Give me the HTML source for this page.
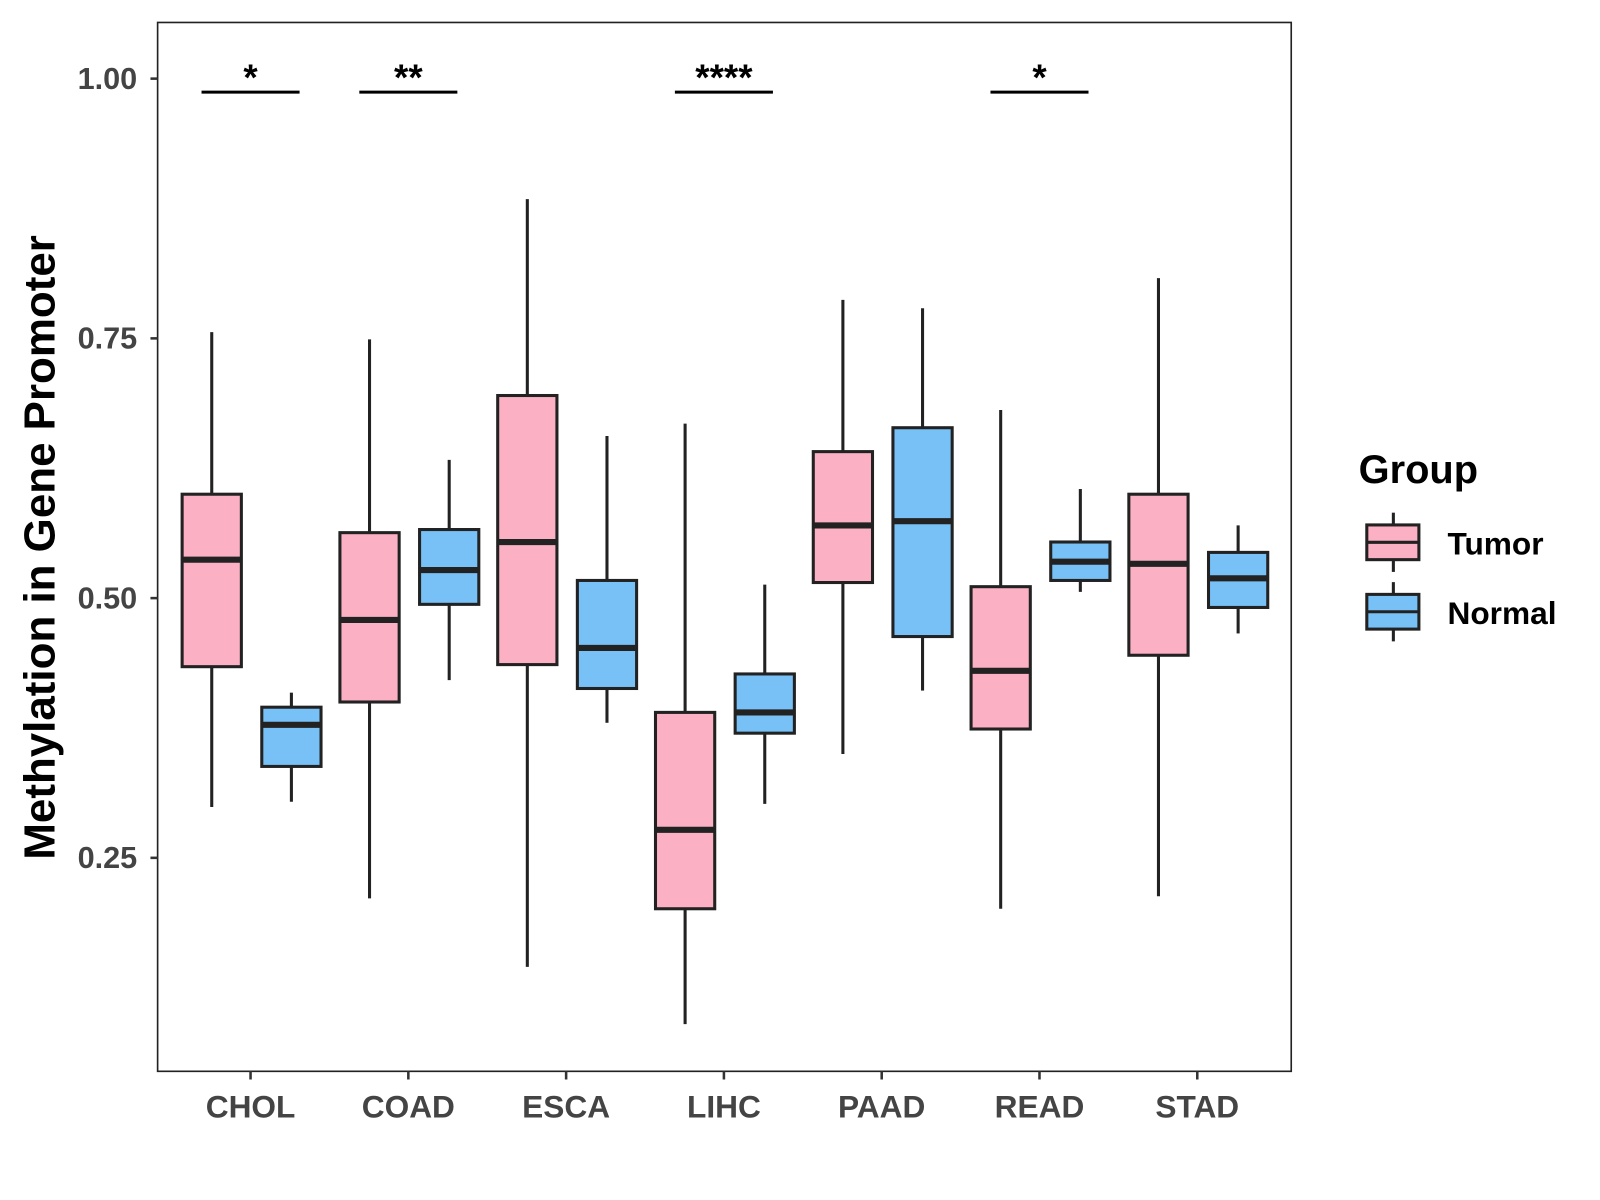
<!DOCTYPE html>
<html><head><meta charset="utf-8"><style>
html,body{margin:0;padding:0;background:#fff}
svg{display:block;font-family:"Liberation Sans",Arial,sans-serif;font-weight:bold}
</style></head><body>
<svg id="chart" width="1600" height="1200" viewBox="0 0 1566 1175" xmlns="http://www.w3.org/2000/svg">
<rect x="0" y="0" width="1566" height="1175" fill="#fff"/>
<rect x="154" y="22" width="1110" height="1027" fill="none" stroke="#222" stroke-width="1.6"/>
<g id="marks"></g>
<text transform="translate(53,536) rotate(-90)" text-anchor="middle" font-size="43" fill="#000">Methylation in Gene Promoter</text>
<g>
<text x="1330" y="473" font-size="39" fill="#000">Group</text>
<g>
<line x1="1364" y1="502" x2="1364" y2="560" stroke="#222" stroke-width="3"/>
<rect x="1338" y="514" width="51" height="34" fill="#FBB0C3" stroke="#222" stroke-width="3"/>
<line x1="1338" y1="531" x2="1389" y2="531" stroke="#222" stroke-width="3"/>
<text x="1417" y="543" font-size="31" fill="#000">Tumor</text></g>
<g>
<line x1="1364" y1="570" x2="1364" y2="628" stroke="#222" stroke-width="3"/>
<rect x="1338" y="582" width="51" height="34" fill="#77C1F7" stroke="#222" stroke-width="3"/>
<line x1="1338" y1="599" x2="1389" y2="599" stroke="#222" stroke-width="3"/>
<text x="1417" y="611" font-size="31" fill="#000">Normal</text></g>
</g>
</svg>
<script>
const categories=["CHOL","COAD","ESCA","LIHC","PAAD","READ","STAD"];
const tumorStats=[[0.299,0.434,0.537,0.600,0.756],[0.211,0.400,0.479,0.563,0.749],[0.145,0.436,0.554,0.695,0.884],[0.090,0.201,0.277,0.390,0.668],[0.350,0.515,0.570,0.641,0.787],[0.201,0.374,0.430,0.511,0.681],[0.213,0.445,0.533,0.600,0.808]];
const normalStats=[[0.304,0.338,0.378,0.395,0.409],[0.421,0.494,0.527,0.566,0.633],[0.380,0.413,0.452,0.517,0.656],[0.302,0.370,0.390,0.427,0.513],[0.411,0.463,0.574,0.664,0.779],[0.506,0.517,0.535,0.554,0.605],[0.466,0.491,0.519,0.544,0.570]];
const yTicks=[0.25,0.50,0.75,1.00];
const yTickLabels=["0.25","0.50","0.75","1.00"];
const sigLabels=["*","**","","****","","*",""];
const sigLevel=0.987;

const NS="http://www.w3.org/2000/svg";
const g=document.getElementById("marks");
function y(v){return 77+(1-v)*1017.3;}
function x(i){return 245+i*154.5;}
function mk(tag,attrs,parent){const e=document.createElementNS(NS,tag);for(const k in attrs)e.setAttribute(k,attrs[k]);(parent||g).appendChild(e);return e;}

yTicks.forEach((t,i)=>{
  const l=mk("line",{x1:147,x2:154,y1:y(t),y2:y(t),stroke:"#333","stroke-width":2.5});
  
  
  const tx=mk("text",{x:134,y:y(t)+10,"text-anchor":"end","font-size":30,fill:"#444"});
  tx.textContent=yTickLabels[i];
  
  
});
categories.forEach((c,i)=>{
  const l=mk("line",{x1:x(i),x2:x(i),y1:1049,y2:1057,stroke:"#333","stroke-width":2.5});
  
  
  const tx=mk("text",{x:x(i),y:1094,"text-anchor":"middle","font-size":31,fill:"#444"});
  tx.textContent=c;
  
  
});
function box(cx,s,fill,name){
  const grp=mk("g",{});
  
  
  const w=58;
  mk("line",{x1:cx,x2:cx,y1:y(s[4]),y2:y(s[3]),stroke:"#222","stroke-width":3},grp);
  mk("line",{x1:cx,x2:cx,y1:y(s[1]),y2:y(s[0]),stroke:"#222","stroke-width":3},grp);
  mk("rect",{x:cx-w/2,y:y(s[3]),width:w,height:y(s[1])-y(s[3]),fill:fill,stroke:"#222","stroke-width":3},grp);
  mk("line",{x1:cx-w/2,x2:cx+w/2,y1:y(s[2]),y2:y(s[2]),stroke:"#222","stroke-width":6},grp);
}
categories.forEach((c,i)=>{
  box(x(i)-38,tumorStats[i],"#FBB0C3","box-"+c.toLowerCase()+"-tumor");
  box(x(i)+40,normalStats[i],"#77C1F7","box-"+c.toLowerCase()+"-normal");
  if(sigLabels[i]){
    const l=mk("line",{x1:x(i)-48,x2:x(i)+48,y1:y(sigLevel),y2:y(sigLevel),stroke:"#000","stroke-width":3});
    
    
    const t=mk("text",{x:x(i),y:y(sigLevel)-2,"text-anchor":"middle","font-size":36,fill:"#000"});
    t.textContent=sigLabels[i];
    
    
  }
});
</script>
</body></html>
